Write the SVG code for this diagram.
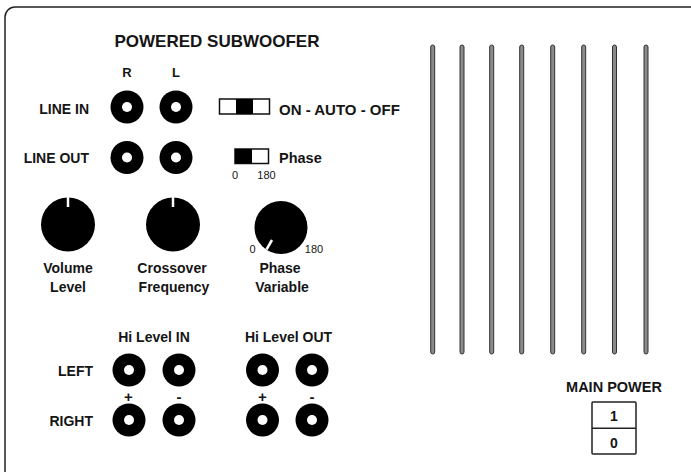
<svg xmlns="http://www.w3.org/2000/svg" width="691" height="472" viewBox="0 0 691 472">
<style>
text{font-family:"Liberation Sans",Arial,sans-serif;font-weight:bold;fill:#151515}
.lbl{font-size:14px}
.c{text-anchor:middle}
.r{text-anchor:end}
.sm{font-size:11px;font-weight:normal;fill:#151515}
.pm{font-size:15px}
.jack{fill:#000}
.hole{fill:#fff}
.knob{fill:#000}
.ind{stroke:#fff;stroke-width:2.5;stroke-linecap:butt}
.slot{fill:#8a8a8a;stroke:#333;stroke-width:1}
.sw{fill:#fff;stroke:#111;stroke-width:1.5}
</style>
<defs>
<g id="jk"><circle class="jack" r="16.5"/><circle class="hole" r="5"/></g>
</defs>
<rect x="5" y="7" width="720" height="500" rx="10" fill="#fff" stroke="#222" stroke-width="1.5"/>
<text x="217" y="47" class="c" style="font-size:17px">POWERED SUBWOOFER</text>
<g id="line-labels">
<text x="127" y="77" class="c" style="font-size:13px">R</text>
<text x="176" y="77" class="c" style="font-size:13px">L</text>
<text x="89" y="113.5" class="r lbl">LINE IN</text>
<text x="89" y="163" class="r lbl">LINE OUT</text>
</g>
<g id="line-in-r"><use href="#jk" x="127" y="107"/></g>
<g id="line-in-l"><use href="#jk" x="176" y="107"/></g>
<g id="line-out-r"><use href="#jk" x="127" y="157.5"/></g>
<g id="line-out-l"><use href="#jk" x="176" y="157.5"/></g>
<g id="power-mode-switch">
<rect class="sw" x="219.5" y="99" width="50" height="15"/>
<rect x="236" y="99" width="17" height="15" fill="#000"/>
<text x="279" y="114.5" class="lbl" style="font-size:15px">ON - AUTO - OFF</text>
</g>
<g id="phase-switch">
<rect class="sw" x="235" y="149" width="33.5" height="14.5"/>
<rect x="235" y="149" width="17" height="14.5" fill="#000"/>
<text x="279" y="163" class="lbl" style="font-size:14.5px">Phase</text>
<text x="235" y="178.5" class="c sm">0</text>
<text x="266.5" y="178.5" class="c sm">180</text>
</g>
<g id="volume-knob">
<circle class="knob" cx="68" cy="224.5" r="27"/>
<line class="ind" x1="68" y1="197" x2="68" y2="207"/>
<text x="68" y="273" class="c lbl">Volume</text>
<text x="68" y="292" class="c lbl">Level</text>
</g>
<g id="crossover-knob">
<circle class="knob" cx="173" cy="224.5" r="27"/>
<line class="ind" x1="173" y1="197" x2="173" y2="207"/>
<text x="172" y="273" class="c lbl">Crossover</text>
<text x="174" y="292" class="c lbl">Frequency</text>
</g>
<g id="phase-knob">
<circle class="knob" cx="281" cy="227.5" r="26.5"/>
<line class="ind" x1="272" y1="240" x2="266.5" y2="249.5"/>
<text x="252.5" y="252.5" class="c sm">0</text>
<text x="314" y="252.5" class="c sm">180</text>
<text x="280" y="273" class="c lbl">Phase</text>
<text x="282" y="292" class="c lbl">Variable</text>
</g>
<g id="hi-level-labels">
<text x="154" y="342" class="c lbl">Hi Level IN</text>
<text x="288.5" y="342" class="c lbl">Hi Level OUT</text>
<text x="93" y="376" class="r lbl">LEFT</text>
<text x="93" y="426" class="r lbl">RIGHT</text>
<text x="128.5" y="401.5" class="c pm">+</text>
<text x="179" y="401.5" class="c pm">-</text>
<text x="262.5" y="401.5" class="c pm">+</text>
<text x="312" y="401.5" class="c pm">-</text>
</g>
<g id="hi-in-left-plus"><use href="#jk" x="129" y="370"/></g>
<g id="hi-in-left-minus"><use href="#jk" x="179" y="370"/></g>
<g id="hi-out-left-plus"><use href="#jk" x="262.5" y="370"/></g>
<g id="hi-out-left-minus"><use href="#jk" x="312" y="370"/></g>
<g id="hi-in-right-plus"><use href="#jk" x="129" y="420"/></g>
<g id="hi-in-right-minus"><use href="#jk" x="179" y="420"/></g>
<g id="hi-out-right-plus"><use href="#jk" x="262.5" y="420"/></g>
<g id="hi-out-right-minus"><use href="#jk" x="312" y="420"/></g>
<g id="vent">
<rect class="slot" x="430.7" y="45" width="4" height="309" rx="2"/>
<rect class="slot" x="460" y="45" width="4" height="309" rx="2"/>
<rect class="slot" x="489.7" y="45" width="4" height="309" rx="2"/>
<rect class="slot" x="519.7" y="45" width="4" height="309" rx="2"/>
<rect class="slot" x="550.7" y="45" width="4" height="309" rx="2"/>
<rect class="slot" x="581.7" y="45" width="4" height="309" rx="2"/>
<rect class="slot" x="612.5" y="45" width="4" height="309" rx="2"/>
<rect class="slot" x="644" y="45" width="4" height="309" rx="2"/>
</g>
<g id="main-power">
<text x="614" y="391.5" class="c" style="font-size:14.5px">MAIN POWER</text>
<rect x="592" y="402" width="44" height="52" fill="#fff" stroke="#222" stroke-width="1.5" rx="1"/>
<line x1="592" y1="428.3" x2="636" y2="428.3" stroke="#222" stroke-width="1.5"/>
<text x="614" y="421" class="c" style="font-size:14px">1</text>
<text x="614" y="447.5" class="c" style="font-size:14px">0</text>
</g>
</svg>
